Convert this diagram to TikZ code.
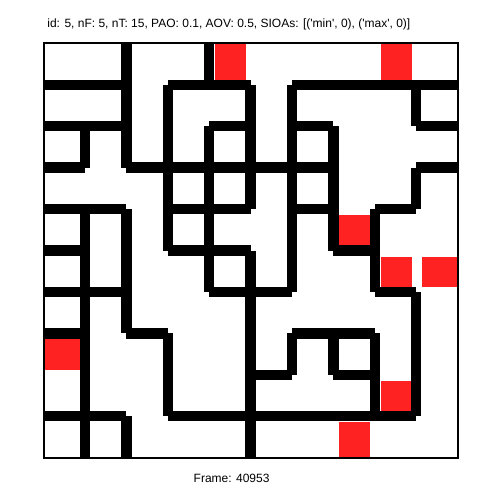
\documentclass[tikz,border=0pt]{standalone}
\usepackage{fontspec}
\setmainfont{Liberation Sans}
\definecolor{GoalRed}{RGB}{255,34,34}
\usepackage{tikz}
\usetikzlibrary{positioning}

\tikzset{
  wall/.style={fill=black},
  goal/.style={fill=GoalRed},
  plottext/.style={anchor=base west, inner sep=0pt, font=\fontsize{6}{7}\selectfont}
}

\begin{document}
\begin{tikzpicture}[x=0.5pt, y=-0.5pt]
  \useasboundingbox (0,0) rectangle (502,502);
  \node[plottext] (title) at (47,27.3) {id: 5, nF: 5, nT: 15, PAO: 0.1, AOV: 0.5, SIOAs: [(\textquotesingle min\textquotesingle, 0), (\textquotesingle max\textquotesingle, 0)]};
  \node[plottext] (framelabel) at (193.3,482.3) {Frame: 40953};
  \begin{scope}[xshift=21.75pt, yshift=-21.75pt, x=20.7pt, y=-20.7pt]
    % goal cells
    \foreach \c/\r in {4/0, 8/0, 7/4, 8/5, 9/5, 0/7, 8/8, 7/9} {
      \pgfmathsetmacro\xa{\c==0 ? 0 : \c+0.145}
      \pgfmathsetmacro\xb{\c==9 ? 10 : \c+0.891}
      \pgfmathsetmacro\ya{\r==0 ? 0 : \r+0.145}
      \pgfmathsetmacro\yb{\r==9 ? 10 : \r+0.891}
      \fill[goal] (\xa,\ya) rectangle (\xb,\yb);
    }
    % horizontal walls
    \foreach \k/\cols in {1/{0,1,3,4,6,7,8,9}, 2/{0,1,4,6,9}, 3/{0,2,3,4,5,6,9},
        4/{0,1,3,4,6,8}, 5/{0,3,4,7}, 6/{0,1,4,5,8}, 7/{0,2,6,7}, 8/{5,7},
        9/{0,1,3,4,5,6,7,8}}
      \foreach \c in \cols
        \fill[wall] (\c,\k-0.1256) rectangle (\c+1,\k+0.1256);
    % vertical walls
    \foreach \r/\bs in {0/{2,4}, 1/{2,3,5,6,9}, 2/{1,2,3,4,5,6,7}, 3/{3,4,5,6,7,9},
        4/{1,2,3,4,6,7,8}, 5/{1,2,4,5,6,8}, 6/{1,2,5,9}, 7/{1,3,5,6,7,8,9},
        8/{1,3,5,8,9}, 9/{1,2,5}}
      \foreach \b in \bs
        \fill[wall] (\b-0.1256,\r) rectangle (\b+0.1256,\r+1);
    \draw[line width=1pt] (0,0) rectangle (10,10);
  \end{scope}
\end{tikzpicture}
\end{document}
